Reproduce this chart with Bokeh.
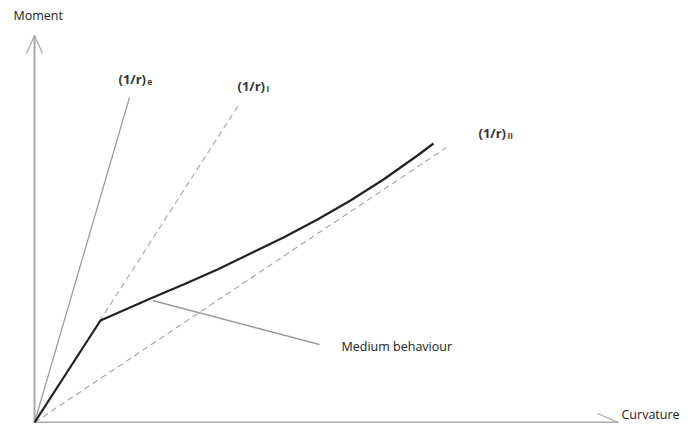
from bokeh.plotting import figure
from bokeh.models import Range1d, ColumnDataSource
from bokeh.core.properties import value
from bokeh.embed import file_html
from bokeh.resources import INLINE

# Schematic moment-curvature diagram (units: arbitrary, origin at 0,0)
curve_x = [0, 66, 116, 149, 183, 216, 249, 283, 316, 349, 383, 399]
curve_y = [0, 102, 124, 138, 153, 169, 185, 203, 222, 243, 267, 279]

ref_names = ["(1/r)", "(1/r)", "(1/r)"]
ref_subs = ["e", "I", "II"]
ref_end_x = [95, 205, 412]
ref_end_y = [325, 319, 275]
ref_dash = ["solid", "6 4", "6 4"]
label_x = [84, 203, 444]
label_y = [344, 337, 290]

annot_x = [118, 285]
annot_y = [122, 78]
annot_text = "Medium behaviour"

x_axis_len = 584
y_axis_len = 387

FONT = "Open Sans"

p = figure(width=684, height=423, output_backend="svg", toolbar_location=None,
           x_range=Range1d(-34, 650), y_range=Range1d(-1, 422), min_border=0)
p.axis.visible = False
p.grid.visible = False
p.outline_line_color = None
p.background_fill_color = "white"
p.border_fill_color = "white"

# axes with open arrowheads
p.line([0, x_axis_len], [0, 0], line_color="#aaaaaa", line_width=2)
p.line([0, 0], [0, y_axis_len], line_color="#aaaaaa", line_width=2)
p.multi_line([[x_axis_len - 21, x_axis_len, x_axis_len - 21],
              [-8, 0, 8]],
             [[9, 0, -9], [y_axis_len - 18, y_axis_len, y_axis_len - 18]],
             line_color="#aaaaaa", line_width=1.3)

# reference stiffness lines
for ex, ey, d in zip(ref_end_x, ref_end_y, ref_dash):
    p.line([0, ex], [0, ey], line_color="#999999" if d == "solid" else "#aaaaaa",
           line_width=1.2, line_dash=d)

# medium behaviour curve
p.line(curve_x, curve_y, line_color="#222222", line_width=2.2)

# annotation leader
p.line(annot_x, annot_y, line_color="#999999", line_width=1.4)

src = ColumnDataSource(dict(x=label_x, y=label_y, t=ref_names))
p.text("x", "y", text="t", source=src, text_font=value(FONT), text_font_style="bold",
       text_font_size="13px", text_color="#333333", text_align="left", text_baseline="middle")
src2 = ColumnDataSource(dict(x=[v + 29 for v in label_x], y=[v - 3 for v in label_y], t=ref_subs))
p.text("x", "y", text="t", source=src2, text_font=value(FONT), text_font_style="bold",
       text_font_size="8px", text_color="#333333", text_align="left", text_baseline="middle")

p.text([-21], [407], text=["Moment"], text_font=value(FONT), text_font_size="12.5px",
       text_color="#222222", text_align="left", text_baseline="middle")
p.text([x_axis_len + 3], [8], text=["Curvature"], text_font=value(FONT), text_font_size="12.5px",
       text_color="#222222", text_align="left", text_baseline="middle")
p.text([annot_x[1] + 22], [annot_y[1] - 2], text=[annot_text], text_font=value(FONT),
       text_font_size="12.5px", text_color="#222222", text_align="left", text_baseline="middle")

open("out.html", "w").write(file_html(p, INLINE))
